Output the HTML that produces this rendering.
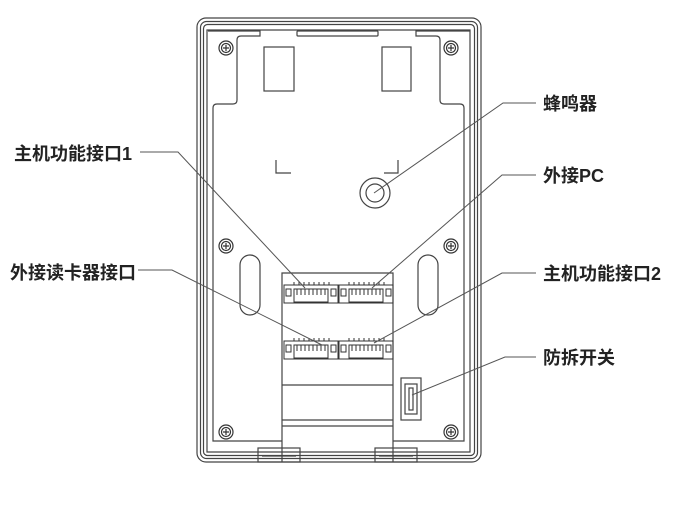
<!DOCTYPE html>
<html><head><meta charset="utf-8"><style>
html,body{margin:0;padding:0;background:#fff;}
svg{display:block;}
text{font-family:"Liberation Sans","Noto Sans CJK SC",sans-serif;font-weight:bold;font-size:18px;fill:#222;}
</style></head><body>
<svg width="673" height="505" viewBox="0 0 673 505" xmlns="http://www.w3.org/2000/svg">
<defs>
<g id="s" fill="none" stroke="#333" stroke-width="1.2"><circle r="7"/><circle r="4.5"/><path d="M-3 0H3M0 -3V3"/></g>
<g id="c1" fill="none" stroke="#333" stroke-width="1">
<rect x="284" y="285" width="54" height="18"/>
<rect x="286" y="289" width="5" height="7"/>
<rect x="331" y="289" width="5" height="7"/>
<rect x="294" y="289" width="34" height="13"/>
<path d="M297 289v6M301 289v6M305 289v6M309 289v6M313 289v6M317 289v6M321 289v6M325 289v6"/>
<path d="M294 285v-3M299 285v-3M304 285v-3M309 285v-3M314 285v-3M319 285v-3M324 285v-3M329 285v-3"/>
</g>
</defs>
<g fill="none" stroke="#444" stroke-width="1.2">
<rect x="197" y="18" width="284" height="444" rx="9"/>
<rect x="200.5" y="21.5" width="277" height="437" rx="6"/>
<rect x="203.5" y="24.5" width="271" height="431" rx="4"/>
<path d="M207 30 L207 452 L470 452 L470 30 Z"/>
<path d="M208 31 L260 31 L260 36 L241 36 Q237 36 237 40 L237 100 Q237 104 233 104 L217 104 Q213 104 213 108 L213 441 L282 441"/>
<path d="M470 31 L416 31 L416 36 L436 36 Q440 36 440 40 L440 100 Q440 104 444 104 L460 104 Q464 104 464 108 L464 441 L393 441"/>
<rect x="297" y="31" width="81" height="5" rx="1"/>
<rect x="264" y="47" width="30" height="44"/>
<rect x="382" y="47" width="29" height="44"/>
<path d="M276 160 L276 173 L291 173"/>
<path d="M398 160 L398 173 L384 173"/>
<circle cx="375" cy="193" r="15"/>
<circle cx="375" cy="193" r="9"/>
<rect x="240" y="255" width="20" height="60" rx="10"/>
<rect x="418" y="255" width="20" height="60" rx="10"/>
<path d="M282 462 L282 273 L393 273 L393 462"/>
<line x1="282" y1="385" x2="393" y2="385"/>
<line x1="282" y1="420" x2="393" y2="420"/>
<line x1="282" y1="426" x2="393" y2="426"/>
<rect x="401" y="378" width="20" height="42"/>
<rect x="405" y="384" width="12" height="30"/>
<rect x="409" y="388" width="4" height="22"/>
<rect x="258" y="448" width="42" height="14"/>
<rect x="375" y="448" width="42" height="14"/>
<line x1="262" y1="456" x2="296" y2="456"/>
<line x1="379" y1="456" x2="413" y2="456"/>
</g>
<use href="#c1"/>
<use href="#c1" x="55"/>
<use href="#c1" y="56"/>
<use href="#c1" x="55" y="56"/>
<use href="#s" x="226" y="48"/><use href="#s" x="451" y="48"/>
<use href="#s" x="226" y="246"/><use href="#s" x="451" y="246"/>
<use href="#s" x="226" y="432"/><use href="#s" x="451" y="432"/>
<g fill="none" stroke="#555" stroke-width="1">
<path d="M140 152 L178 152 L305 288"/>
<path d="M138 270 L172 270 L322 345"/>
<path d="M536 103 L503 103 L374 193"/>
<path d="M536 175 L502 175 L372 288"/>
<path d="M536 273 L502 273 L374 343"/>
<path d="M536 357 L505 357 L412 395"/>
</g>
<text x="14" y="160">主机功能接口1</text>
<text x="10" y="279">外接读卡器接口</text>
<text x="543" y="110">蜂鸣器</text>
<text x="543" y="182">外接PC</text>
<text x="543" y="280">主机功能接口2</text>
<text x="543" y="364">防拆开关</text>
</svg>
</body></html>
